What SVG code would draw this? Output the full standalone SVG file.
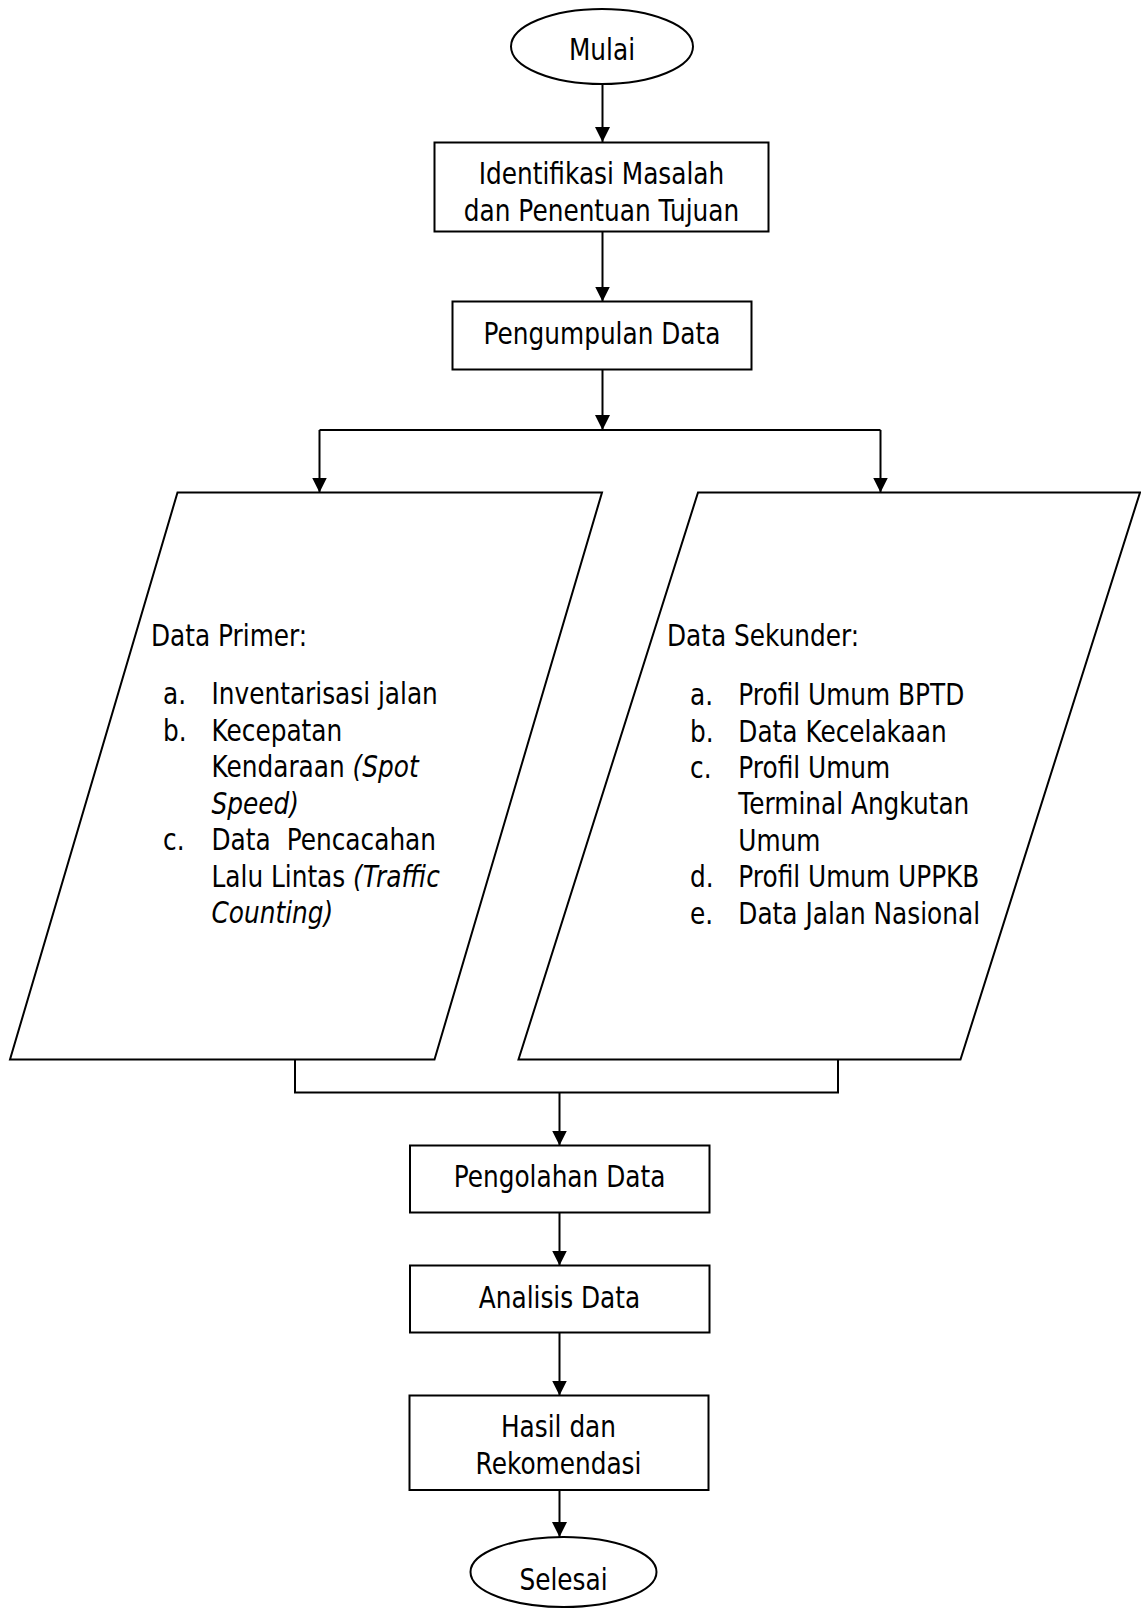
<svg xmlns="http://www.w3.org/2000/svg" width="1141" height="1609" viewBox="0 0 1141 1609">
<style>
  .shape { fill: #ffffff; stroke: #000000; stroke-width: 2; }
  .conn { fill: none; stroke: #000000; stroke-width: 2; }
  .t { font-family: "DejaVu Sans", Verdana, sans-serif; font-size: 31px; fill: #000000; }
  .c { text-anchor: middle; }
  .i { font-style: italic; }
</style>
<defs>
  <marker id="arrow" viewBox="0 0 15 15" refX="15" refY="7.5" markerWidth="15" markerHeight="15" markerUnits="userSpaceOnUse" orient="auto">
    <path d="M0,0 L15,7.5 L0,15 z" fill="#000000"/>
  </marker>
</defs>
<rect x="0" y="0" width="1141" height="1609" fill="#ffffff"/>

<g id="connectors">
  <path class="conn" d="M602.5,84 V142" marker-end="url(#arrow)"/>
  <path class="conn" d="M602.5,231.5 V301.5" marker-end="url(#arrow)"/>
  <path class="conn" d="M602.5,369.5 V430" marker-end="url(#arrow)"/>
  <path class="conn" d="M319.5,430 H880.5"/>
  <path class="conn" d="M319.5,430 V492.5" marker-end="url(#arrow)"/>
  <path class="conn" d="M880.5,430 V492.5" marker-end="url(#arrow)"/>
  <path class="conn" d="M295,1059.5 V1092.5 H838 V1059.5"/>
  <path class="conn" d="M559.5,1092.5 V1145.5" marker-end="url(#arrow)"/>
  <path class="conn" d="M559.5,1212.5 V1265.5" marker-end="url(#arrow)"/>
  <path class="conn" d="M559.5,1332.5 V1395.5" marker-end="url(#arrow)"/>
  <path class="conn" d="M559.5,1490 V1537" marker-end="url(#arrow)"/>
</g>

<g id="mulai">
  <ellipse class="shape" cx="602" cy="46.5" rx="91" ry="37.5"/>
  <text class="t c" transform="translate(602,59.5) scale(0.8,1)">Mulai</text>
</g>

<g id="identifikasi">
  <rect class="shape" x="434.5" y="142.5" width="334" height="89"/>
  <text class="t c" transform="translate(601.5,184) scale(0.8,1)">Identifikasi Masalah</text>
  <text class="t c" transform="translate(601.5,221) scale(0.8,1)">dan Penentuan Tujuan</text>
</g>

<g id="pengumpulan">
  <rect class="shape" x="452.5" y="301.5" width="299" height="68"/>
  <text class="t c" transform="translate(602,344) scale(0.8,1)">Pengumpulan Data</text>
</g>

<g id="data-primer">
  <path class="shape" d="M177.5,492.5 H602 L434.5,1059.5 H10 Z"/>
  <text class="t" transform="translate(151,646) scale(0.8,1)">Data Primer:</text>
  <text class="t" transform="translate(163,704) scale(0.8,1)">a.</text>
  <text class="t" transform="translate(211.5,704) scale(0.8,1)">Inventarisasi jalan</text>
  <text class="t" transform="translate(163,740.5) scale(0.8,1)">b.</text>
  <text class="t" transform="translate(211.5,740.5) scale(0.8,1)">Kecepatan</text>
  <text class="t" transform="translate(211.5,777) scale(0.8,1)">Kendaraan <tspan class="i">(Spot</tspan></text>
  <text class="t" transform="translate(211.5,813.5) scale(0.8,1)"><tspan class="i">Speed)</tspan></text>
  <text class="t" transform="translate(163,850) scale(0.8,1)">c.</text>
  <text class="t" transform="translate(211.5,850) scale(0.8,1)">Data</text>
  <text class="t" transform="translate(286.7,850) scale(0.8,1)">Pencacahan</text>
  <text class="t" transform="translate(211.5,886.5) scale(0.8,1)">Lalu Lintas <tspan class="i">(Traffic</tspan></text>
  <text class="t" transform="translate(211.5,923) scale(0.8,1)"><tspan class="i">Counting)</tspan></text>
</g>

<g id="data-sekunder">
  <path class="shape" d="M698,492.5 H1140 L960.5,1059.5 H518.5 Z"/>
  <text class="t" transform="translate(667,646) scale(0.8,1)">Data Sekunder:</text>
  <text class="t" transform="translate(690,705) scale(0.8,1)">a.</text>
  <text class="t" transform="translate(738.3,705) scale(0.8,1)">Profil Umum BPTD</text>
  <text class="t" transform="translate(690,741.5) scale(0.8,1)">b.</text>
  <text class="t" transform="translate(738.3,741.5) scale(0.8,1)">Data Kecelakaan</text>
  <text class="t" transform="translate(690,778) scale(0.8,1)">c.</text>
  <text class="t" transform="translate(738.3,778) scale(0.8,1)">Profil Umum</text>
  <text class="t" transform="translate(738.3,814) scale(0.8,1)">Terminal Angkutan</text>
  <text class="t" transform="translate(738.3,850.5) scale(0.8,1)">Umum</text>
  <text class="t" transform="translate(690,887) scale(0.8,1)">d.</text>
  <text class="t" transform="translate(738.3,887) scale(0.8,1)">Profil Umum UPPKB</text>
  <text class="t" transform="translate(690,923.5) scale(0.8,1)">e.</text>
  <text class="t" transform="translate(738.3,923.5) scale(0.8,1)">Data Jalan Nasional</text>
</g>

<g id="pengolahan">
  <rect class="shape" x="410" y="1145.5" width="299.5" height="67"/>
  <text class="t c" transform="translate(559.5,1187) scale(0.8,1)">Pengolahan Data</text>
</g>

<g id="analisis">
  <rect class="shape" x="410" y="1265.5" width="299.5" height="67"/>
  <text class="t c" transform="translate(559.5,1308) scale(0.8,1)">Analisis Data</text>
</g>

<g id="hasil">
  <rect class="shape" x="409.5" y="1395.5" width="299" height="94.5"/>
  <text class="t c" transform="translate(558.5,1436.5) scale(0.8,1)">Hasil dan</text>
  <text class="t c" transform="translate(558.5,1473.5) scale(0.8,1)">Rekomendasi</text>
</g>

<g id="selesai">
  <ellipse class="shape" cx="563.5" cy="1572" rx="93" ry="35"/>
  <text class="t c" transform="translate(563.5,1590) scale(0.8,1)">Selesai</text>
</g>
</svg>
